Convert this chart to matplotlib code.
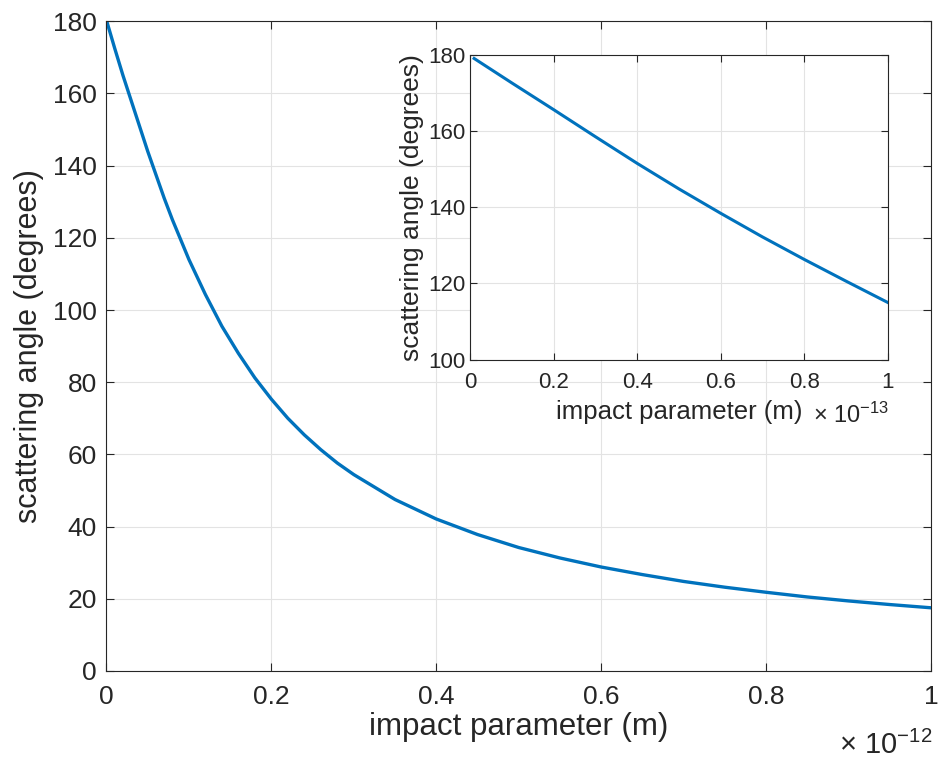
import matplotlib.pyplot as plt
from matplotlib.ticker import FormatStrFormatter

# impact parameter in units of 1e-12 m, scattering angle in degrees
b_main = [0.001, 0.01, 0.02, 0.03, 0.04, 0.05, 0.06, 0.07, 0.08, 0.09, 0.10,
          0.12, 0.14, 0.16, 0.18, 0.20, 0.22, 0.24, 0.26, 0.28, 0.30, 0.35,
          0.40, 0.45, 0.50, 0.55, 0.60, 0.65, 0.70, 0.75, 0.80, 0.85, 0.90,
          0.95, 1.00]
theta_main = [179.5, 172.5, 165.0, 158.0, 151.0, 144.0, 137.5, 131.0, 125.0,
              119.5, 114.0, 104.3, 95.5, 88.0, 81.2, 75.3, 70.0, 65.4, 61.3,
              57.6, 54.4, 47.5, 42.1, 37.8, 34.2, 31.3, 28.8, 26.7, 24.8,
              23.2, 21.8, 20.5, 19.4, 18.4, 17.5]

# inset: impact parameter in units of 1e-13 m
b_zoom = [0.01, 0.1, 0.2, 0.3, 0.4, 0.5, 0.6, 0.7, 0.8, 0.9, 1.0]
theta_zoom = [179.0, 172.6, 165.6, 158.5, 151.5, 144.8, 138.4, 132.2, 126.3,
              120.6, 115.0]

blue = '#0072BD'
dark = '#262626'
plt.rcParams['font.family'] = ['Liberation Sans', 'DejaVu Sans']
plt.rcParams['mathtext.fontset'] = 'custom'
plt.rcParams['mathtext.rm'] = 'Liberation Sans'


def style_axes(ax, fs, xpad, ypad, ticklen):
    for s in ax.spines.values():
        s.set_color(dark)
        s.set_linewidth(0.8)
    ax.tick_params(direction='in', top=True, right=True, length=ticklen,
                   width=0.8, colors=dark, labelsize=fs)
    ax.tick_params(axis='x', pad=xpad)
    ax.tick_params(axis='y', pad=ypad)
    ax.grid(True, color='#e3e3e3', linewidth=0.8)
    ax.set_axisbelow(True)
    ax.xaxis.set_major_formatter(FormatStrFormatter('%g'))


fig = plt.figure(figsize=(9.38, 7.59), dpi=100)

ax = fig.add_axes([0.1135, 0.116, 0.879, 0.856])
ax.plot(b_main, theta_main, color=blue, linewidth=2.4)
ax.set_xlim(0, 1)
ax.set_ylim(0, 180)
ax.set_xticks([0, 0.2, 0.4, 0.6, 0.8, 1])
ax.set_yticks(range(0, 181, 20))
style_axes(ax, 19, 10, 7, 6)
ax.set_xlabel('impact parameter (m)', fontsize=22.5, color=dark, labelpad=2)
ax.set_ylabel('scattering angle (degrees)', fontsize=22, color=dark, labelpad=6)
fig.text(932 / 938, 1 - 754 / 759, '× $\\mathregular{10^{-12}}$',
         fontsize=21, color=dark, ha='right', va='baseline')

ins = fig.add_axes([0.501, 0.526, 0.4456, 0.402])
ins.plot(b_zoom, theta_zoom, color=blue, linewidth=2.2)
ins.set_xlim(0, 1)
ins.set_ylim(100, 180)
ins.set_xticks([0, 0.2, 0.4, 0.6, 0.8, 1])
ins.set_yticks(range(100, 181, 20))
style_axes(ins, 16, 9, 3, 5)
ins.set_xlabel('impact parameter (m)', fontsize=18.5, color=dark, labelpad=5)
ins.set_ylabel('scattering angle (degrees)', fontsize=19, color=dark, labelpad=3)
fig.text(889 / 938, 1 - 423 / 759, '× $\\mathregular{10^{-13}}$',
         fontsize=17, color=dark, ha='right', va='baseline')

fig.savefig('out.png', dpi=100)
